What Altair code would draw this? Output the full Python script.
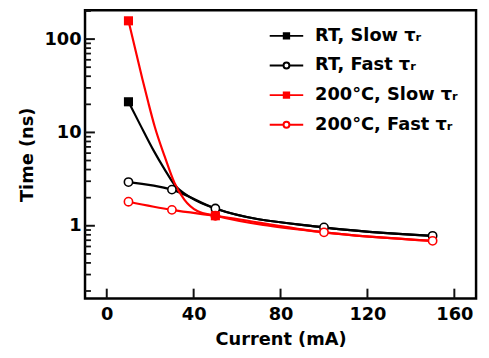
import altair as alt
import pandas as pd

# ---------------- data ----------------
names = ["RT, Slow τᵣ", "RT, Fast τᵣ", "200°C, Slow τᵣ", "200°C, Fast τᵣ"]
colors = ["black", "black", "red", "red"]

# fast rise-time markers
curr_fast = [10, 30, 50, 100, 150]
rt_fast = [2.94, 2.44, 1.53, 0.96, 0.78]
ht_fast = [1.81, 1.48, 1.28, 0.85, 0.69]

# slow rise-time markers
rt_slow_x = [10]
rt_slow = [21.3]
ht_slow_x = [10, 50]
ht_slow = [157, 1.28]

# slow rise-time curves
rt_slow_curve_x = [10, 15.3, 21.4, 26.7, 31.2, 38.7, 50, 100, 150]
rt_slow_curve = [21.3, 12.2, 6.5, 4.0, 2.75, 2.0, 1.53, 0.96, 0.78]
ht_slow_curve_x = [10, 16.1, 19.1, 22.1, 26.7, 31.2, 35.7, 41.7, 50, 100, 150]
ht_slow_curve = [157, 40, 21, 11.5, 5.5, 2.87, 1.91, 1.44, 1.28, 0.85, 0.69]

x_ticks = [0, 40, 80, 120, 160]
y_major = [1, 10, 100]
y_minor = [0.2, 0.3, 0.4, 0.5, 0.6, 0.7, 0.8, 0.9,
           2, 3, 4, 5, 6, 7, 8, 9,
           20, 30, 40, 50, 60, 70, 80, 90, 200]

FONT = "DejaVu Sans"
xscale = alt.Scale(domain=[-10, 170], nice=False, zero=False)
yscale = alt.Scale(type="log", domain=[0.166, 204], nice=False)

X = alt.X("x:Q", scale=xscale,
          axis=alt.Axis(values=x_ticks, title="Current (mA)", ticks=False,
                        domain=False, grid=False, labelPadding=7, titlePadding=8,
                        labelFont=FONT, labelFontSize=18, labelFontWeight="bold",
                        titleFont=FONT, titleFontSize=18, titleFontWeight="bold",
                        labelColor="black", titleColor="black"))
Y = alt.Y("y:Q", scale=yscale,
          axis=alt.Axis(values=y_major, format="d", title="Time (ns)", ticks=False,
                        domain=False, grid=False, labelPadding=4, titlePadding=8,
                        labelFont=FONT, labelFontSize=18, labelFontWeight="bold",
                        titleFont=FONT, titleFontSize=18, titleFontWeight="bold",
                        labelColor="black", titleColor="black"))
XS = alt.X("x:Q", scale=xscale)
YS = alt.Y("y:Q", scale=yscale)


def frame(xs, ys):
    return pd.DataFrame({"x": xs, "y": ys})


layers = []
# fitted / guide lines
curves = [(rt_slow_curve_x, rt_slow_curve, "black"),
          (curr_fast, rt_fast, "black"),
          (ht_slow_curve_x, ht_slow_curve, "red"),
          (curr_fast, ht_fast, "red")]
for i, (xs, ys, c) in enumerate(curves):
    enc = dict(x=X, y=Y) if i == 0 else dict(x=XS, y=YS)
    layers.append(alt.Chart(frame(xs, ys)).mark_line(
        interpolate="monotone", strokeWidth=2.2, color=c).encode(**enc))

# inward axis ticks
layers.append(alt.Chart(pd.DataFrame({"y": y_minor})).mark_rule(color="#111111", strokeWidth=1.8).encode(
    y=YS, x=alt.value(0), x2=alt.value(6)))
layers.append(alt.Chart(pd.DataFrame({"y": y_major})).mark_rule(color="#111111", strokeWidth=2).encode(
    y=YS, x=alt.value(0), x2=alt.value(10)))
layers.append(alt.Chart(pd.DataFrame({"x": x_ticks})).mark_rule(color="#111111", strokeWidth=2).encode(
    x=XS, y=alt.value(292), y2=alt.value(282)))

# markers
markers = [(curr_fast, rt_fast, rt_slow_x, rt_slow, "black"),
           (curr_fast, ht_fast, ht_slow_x, ht_slow, "red")]
for fx, fy, sx, sy, c in markers:
    layers.append(alt.Chart(frame(fx, fy)).mark_point(
        shape="circle", filled=True, color="white", size=70, opacity=1).encode(x=XS, y=YS))
    layers.append(alt.Chart(frame(fx, fy)).mark_point(
        shape="circle", color=c, size=70, strokeWidth=1.6, opacity=1).encode(x=XS, y=YS))
    layers.append(alt.Chart(frame(sx, sy)).mark_point(
        shape="square", filled=True, color=c, size=85, opacity=1).encode(x=XS, y=YS))

# legend helper (its own markers are clipped away, only the legend shows)
sq_path = "M-4,0H-0.64M0.64,0H4M-0.64,-0.64H0.64V0.64H-0.64Z"
ci_path = "M-4,0H-0.7M0.7,0H4M0.7,0A0.7,0.7,0,1,1,-0.7,0A0.7,0.7,0,1,1,0.7,0Z"
leg = alt.Legend(title=None, orient="none", legendX=187, legendY=17, padding=0,
                 symbolSize=72, symbolStrokeWidth=2, symbolOffset=8, labelOffset=20,
                 rowPadding=12, labelFont=FONT, labelFontSize=18, labelFontWeight="bold",
                 labelColor="black", labelLimit=400)
layers.append(alt.Chart(pd.DataFrame({"series": names})).mark_point(
    clip=True, size=72, strokeWidth=2, opacity=1).encode(
    x=alt.value(-200), y=alt.value(-200),
    stroke=alt.Stroke("series:N", scale=alt.Scale(domain=names, range=colors), legend=leg),
    fill=alt.Fill("series:N", scale=alt.Scale(domain=names, range=["black", "white", "red", "white"]), legend=leg),
    shape=alt.Shape("series:N", scale=alt.Scale(domain=names, range=[sq_path, ci_path, sq_path, ci_path]), legend=leg),
))

chart = alt.layer(*layers).properties(
    width=396, height=292,
    autosize=alt.AutoSizeParams(type="none"),
    padding={"left": 78, "top": 0, "right": 5, "bottom": 60},
).configure_view(stroke="black", strokeWidth=2.5)

chart.save("out.html", embed_options={"renderer": "svg", "actions": False})
